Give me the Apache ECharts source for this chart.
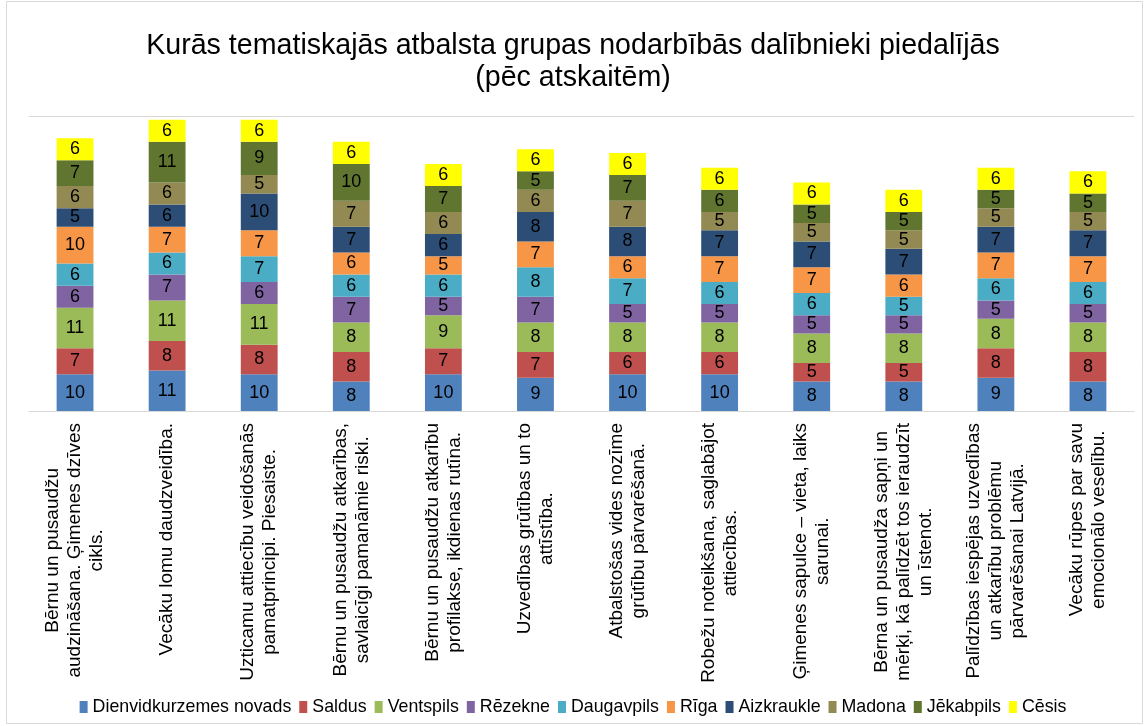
<!DOCTYPE html>
<html>
<head>
<meta charset="utf-8">
<script src="https://cdn.jsdelivr.net/npm/echarts@6/dist/echarts.min.js"></script>
<style>html,body{margin:0;padding:0;background:#fff}#c{width:1146px;height:726px}</style>
</head>
<body>
<div id="c"></div>
<script>
const categories = [
  "Bērnu un pusaudžu\naudzināšana. Ģimenes dzīves\ncikls.",
  "Vecāku lomu daudzveidība.",
  "Uzticamu attiecību veidošanās\npamatprincipi. Piesaiste.",
  "Bērnu un pusaudžu atkarības,\nsavlaicīgi pamanāmie riski.",
  "Bērnu un pusaudžu atkarību\nprofilakse, ikdienas rutīna.",
  "Uzvedības grūtības un to\nattīstība.",
  "Atbalstošas vides nozīme\ngrūtību pārvarēšanā.",
  "Robežu noteikšana, saglabājot\nattiecības.",
  "Ģimenes sapulce – vieta, laiks\nsarunai.",
  "Bērna un pusaudža sapņi un\nmērķi, kā palīdzēt tos ieraudzīt\nun īstenot.",
  "Palīdzības iespējas uzvedības\nun atkarību problēmu\npārvarēšanai Latvijā.",
  "Vecāku rūpes par savu\nemocionālo veselību."
];
const seriesNames = ["Dienvidkurzemes novads","Saldus","Ventspils","Rēzekne","Daugavpils","Rīga","Aizkraukle","Madona","Jēkabpils","Cēsis"];
const dienvidkurzemes = [10,11,10,8,10,9,10,10,8,8,9,8];
const saldus          = [7,8,8,8,7,7,6,6,5,5,8,8];
const ventspils       = [11,11,11,8,9,8,8,8,8,8,8,8];
const rezekne         = [6,7,6,7,5,7,5,5,5,5,5,5];
const daugavpils      = [6,6,7,6,6,8,7,6,6,5,6,6];
const riga            = [10,7,7,6,5,7,6,7,7,6,7,7];
const aizkraukle      = [5,6,10,7,6,8,8,7,7,7,7,7];
const madona          = [6,6,5,7,6,6,7,5,5,5,5,5];
const jekabpils       = [7,11,9,10,7,5,7,6,5,5,5,5];
const cesis           = [6,6,6,6,6,6,6,6,6,6,6,6];
const seriesValues = [dienvidkurzemes,saldus,ventspils,rezekne,daugavpils,riga,aizkraukle,madona,jekabpils,cesis];
const colors = ["#4F81BD","#C0504D","#9BBB59","#8064A2","#4BACC6","#F79646","#2C4D75","#938953","#5F7530","#FFFF00"];
const titleText = "Kurās tematiskajās atbalsta grupas nodarbībās dalībnieki piedalījās\n(pēc atskaitēm)";

const FONT = "'Liberation Sans', Arial, sans-serif";
const chart = echarts.init(document.getElementById('c'), null, {renderer:'canvas'});
chart.setOption({
  animation: false,
  color: colors,
  textStyle: {fontFamily: FONT},
  graphic: [{type:'rect', shape:{x:6.5,y:1.5,width:1136,height:722}, style:{fill:'none', stroke:'#d9d9d9', lineWidth:1}, silent:true}],
  title: {
    text: titleText, left: 'center', top: 25,
    textStyle: {fontFamily: FONT, fontSize: 28.6, fontWeight: 'normal', color: '#000', lineHeight: 32, align: 'center'}
  },
  legend: {
    bottom: 5, left: 'center', itemWidth: 8, itemHeight: 12, itemGap: 8,
    icon: 'rect',
    textStyle: {fontFamily: FONT, fontSize: 17.8, color: '#000'},
    data: seriesNames
  },
  grid: {left: 29, right: 12, top: 116, bottom: 315},
  xAxis: {
    type: 'category', data: categories,
    axisLine: {lineStyle: {color: '#d9d9d9'}},
    axisTick: {show: false},
    axisLabel: {
      interval: 0, rotate: 90, margin: 12, color: '#000', fontFamily: FONT, fontSize: 19, lineHeight: 22,
      formatter: v => v.split('\n').map(l => '{c|' + l + '}').join('\n'),
      rich: {c: {align: 'center', fontFamily: FONT, fontSize: 19, lineHeight: 22, color: '#000'}}
    }
  },
  yAxis: {
    type: 'value', min: 0, max: 80, interval: 80,
    axisLabel: {show: false}, axisLine: {show: false}, axisTick: {show: false},
    splitLine: {lineStyle: {color: '#d9d9d9'}}
  },
  series: seriesNames.map((n, i) => ({
    name: n, type: 'bar', stack: 'total', barWidth: '40%',
    data: seriesValues[i],
    label: {show: true, position: 'inside', color: '#000', fontFamily: FONT, fontSize: 18},
    emphasis: {disabled: true}
  }))
});
</script>
</body>
</html>
